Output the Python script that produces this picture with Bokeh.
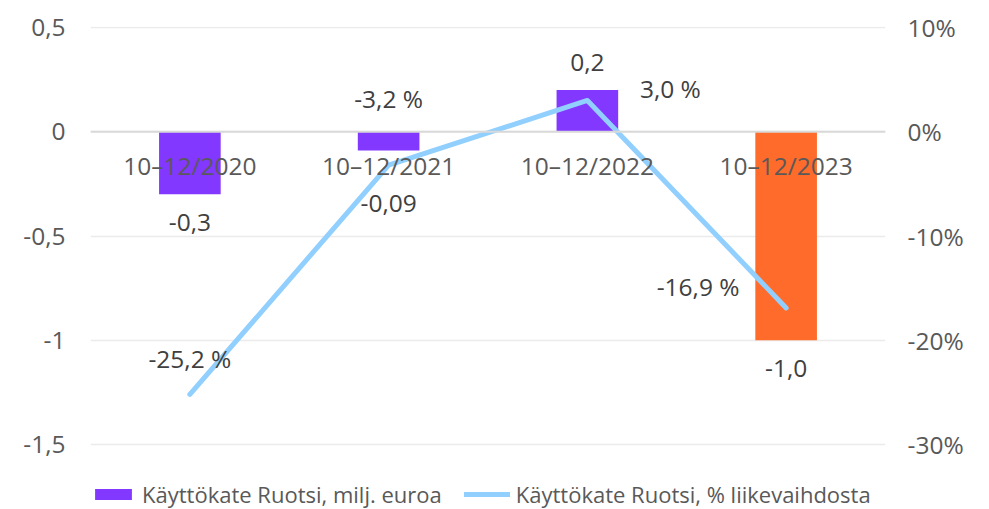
from bokeh.plotting import figure
from bokeh.models import (FactorRange, Range1d, LinearAxis, FixedTicker, CustomJSTickFormatter,
                          ColumnDataSource, Legend, LegendItem, Span)
from bokeh.core.properties import value
from bokeh.embed import file_html
from bokeh.resources import INLINE

categories = ["10–12/2020", "10–12/2021", "10–12/2022", "10–12/2023"]
ebitda = [-0.3, -0.09, 0.2, -1.0]
ebitda_labels = ["-0,3", "-0,09", "0,2", "-1,0"]
pct = [-25.2, -3.2, 3.0, -16.9]
pct_labels = ["-25,2 %", "-3,2 %", "3,0 %", "-16,9 %"]
left_ticks = [0.5, 0, -0.5, -1, -1.5]
right_ticks = [10, 0, -10, -20, -30]

FONT = "Open Sans"
FS = "24.5px"
PURPLE = "#8338FF"
ORANGE = "#FF6B2B"
BLUE = "#91CFFF"
TXT = "#595959"
DTXT = "#404040"

bar_colors = [PURPLE, PURPLE, PURPLE, ORANGE]

# layout geometry: the plotting frame extends down to hold the legend
TOP = 26
PX_PER_UNIT = 208.5          # pixels per 1.0 on the left axis
FRAME_H = 483
pad = 1.0 / PX_PER_UNIT
y_top = 0.5 + pad
y_bot = y_top - FRAME_H / PX_PER_UNIT
p = figure(x_range=FactorRange(factors=categories, range_padding=0),
           y_range=Range1d(y_bot, y_top), output_backend="svg", toolbar_location=None,
           frame_width=795, frame_height=FRAME_H, min_border_left=90, min_border_right=96,
           min_border_top=TOP, min_border_bottom=0)
p.extra_y_ranges = {"pct": Range1d(y_bot * 20, y_top * 20)}
p.outline_line_color = None
p.background_fill_color = "white"
p.xaxis.visible = False

p.yaxis.ticker = FixedTicker(ticks=left_ticks)
p.yaxis.formatter = CustomJSTickFormatter(code="return tick.toString().replace('.', ',');")
ax_r = LinearAxis(y_range_name="pct", ticker=FixedTicker(ticks=right_ticks),
                  formatter=CustomJSTickFormatter(code="return tick.toFixed(0) + '%';"))
p.add_layout(ax_r, "right")
for ax, so in [(p.yaxis[0], 19), (ax_r, 16)]:
    ax.axis_line_color = None
    ax.major_tick_line_color = None
    ax.minor_tick_line_color = None
    ax.major_label_text_font = FONT
    ax.major_label_text_font_size = FS
    ax.major_label_text_color = TXT
    ax.major_label_standoff = so

p.xgrid.grid_line_color = None
p.ygrid.ticker = FixedTicker(ticks=left_ticks)
p.ygrid.grid_line_color = "#EBEBEB"
p.ygrid.grid_line_width = 1.5

src = ColumnDataSource(dict(x=categories, y=ebitda, c=bar_colors, lab=ebitda_labels,
                            pct=pct, plab=pct_labels))
bars = p.vbar(x="x", top="y", bottom=0, width=0.31, fill_color="c", line_color=None, source=src)
p.add_layout(Span(location=0, dimension="width", line_color="#D9D9D9", line_width=2))

line = p.line(x="x", y="pct", y_range_name="pct", line_color=BLUE, line_width=5,
              line_cap="round", line_join="round", source=src)

# category labels at the zero line
p.text(x=categories, y=[0] * 4, text=categories, text_font=value(FONT), text_font_size=FS,
       text_color=TXT, text_align="center", text_baseline="middle", y_offset=34)

# bar data labels
bar_off = [28, 53, -28, 28]
p.text(x=categories, y=ebitda, text=ebitda_labels, text_font=value(FONT), text_font_size=FS,
       text_color=DTXT, text_align="center", text_baseline="middle", y_offset=bar_off)

# line data labels
px_off = [0, 0, 83, -88]
py_off = [-36, -67, -12, -21]
p.text(x=categories, y=pct, y_range_name="pct", text=pct_labels, text_font=value(FONT),
       text_font_size=FS, text_color=DTXT, text_align="center", text_baseline="middle",
       x_offset=px_off, y_offset=py_off)

legend = Legend(items=[LegendItem(label="Käyttökate Ruotsi, milj. euroa", renderers=[bars], index=0),
                       LegendItem(label="Käyttökate Ruotsi, % liikevaihdosta", renderers=[line])],
                orientation="horizontal", location=(0, 0), border_line_color=None,
                background_fill_alpha=0, label_text_font=FONT, label_text_font_size="22px",
                label_text_color=TXT, glyph_width=46, glyph_height=14, label_standoff=6,
                spacing=22, padding=0, margin=0)
p.add_layout(legend, "center")

open("out.html", "w").write(file_html(p, INLINE))
